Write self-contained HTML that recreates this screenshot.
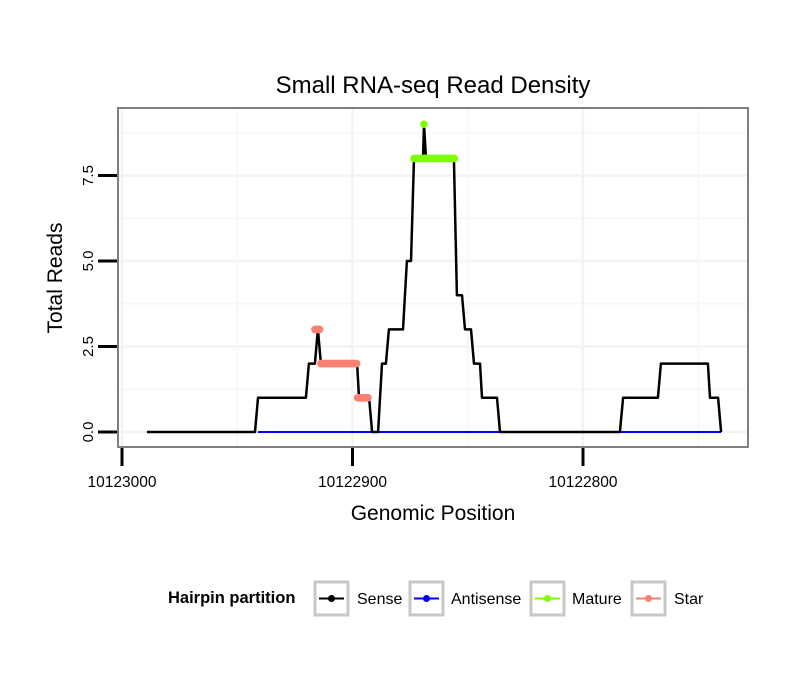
<!DOCTYPE html>
<html><head><meta charset="utf-8"><style>
body{margin:0;background:#fff;}
svg text{font-family:"Liberation Sans",Arial,sans-serif;}
</style></head><body>
<svg id="chart" width="810" height="690" xmlns="http://www.w3.org/2000/svg">
<rect width="810" height="690" fill="#fff"/>
<text x="433" y="93" font-size="24" text-anchor="middle">Small RNA-seq Read Density</text>
<rect x="118" y="108" width="630" height="339" fill="#fff"/>
<g id="grid"></g>
<g id="series"></g>
<rect x="118" y="108" width="630" height="339" fill="none" stroke="#7f7f7f" stroke-width="2"/>
<g id="axes"></g>
<text x="433" y="520" font-size="21" text-anchor="middle">Genomic Position</text>
<text transform="translate(62,278) rotate(-90)" font-size="21" text-anchor="middle">Total Reads</text>
<g>
<text x="168" y="603" font-size="16.5" font-weight="bold">Hairpin partition</text>
<g><rect x="315" y="582" width="33" height="33" fill="#fff" stroke="#c8c8c8" stroke-width="3"/><line x1="319" y1="598.5" x2="344" y2="598.5" stroke="#000" stroke-width="2"/><circle cx="331.5" cy="598.5" r="3.5" fill="#000"/><text x="357" y="604" font-size="16">Sense</text></g>
<g><rect x="410" y="582" width="33" height="33" fill="#fff" stroke="#c8c8c8" stroke-width="3"/><line x1="414" y1="598.5" x2="439" y2="598.5" stroke="#0000ff" stroke-width="2"/><circle cx="426.5" cy="598.5" r="3.5" fill="#0000ff"/><text x="451" y="604" font-size="16">Antisense</text></g>
<g><rect x="531" y="582" width="33" height="33" fill="#fff" stroke="#c8c8c8" stroke-width="3"/><line x1="535" y1="598.5" x2="560" y2="598.5" stroke="#7fff00" stroke-width="2"/><circle cx="547.5" cy="598.5" r="3.5" fill="#7fff00"/><text x="572" y="604" font-size="16">Mature</text></g>
<g><rect x="632" y="582" width="33" height="33" fill="#fff" stroke="#c8c8c8" stroke-width="3"/><line x1="636" y1="598.5" x2="661" y2="598.5" stroke="#fa8072" stroke-width="2"/><circle cx="648.5" cy="598.5" r="3.5" fill="#fa8072"/><text x="674" y="604" font-size="16">Star</text></g>
</g>
</svg>
<script>
const sensePos = [10122989.2,10122942.3,10122941,10122920.2,10122918.9,10122916.3,10122915,10122913.7,10122898,10122897.2,10122892.8,10122891.5,10122888.9,10122887.2,10122885.5,10122884.2,10122878.1,10122876.4,10122874.6,10122873.3,10122869.4,10122869,10122868.1,10122856,10122854.7,10122852.5,10122851.2,10122848.6,10122847.3,10122844.7,10122843.8,10122837.3,10122836,10122784,10122782.6,10122767.5,10122766.2,10122745.8,10122744.9,10122741.4,10122740.1];
const senseVal = [0,0,1,1,2,2,3,2,2,1,1,0,0,2,2,3,3,5,5,8,8,9,8,8,4,4,3,3,2,2,1,1,0,0,1,1,2,2,1,1,0];
const antisenseRange = [10122941, 10122740.1];
const matureStart = [10122873.3, 10122869];
const matureEnd = [10122855.5, 10122869];
const matureVal = [8, 9];
const starStart = [10122916.3, 10122913.7, 10122897.8];
const starEnd = [10122914.3, 10122897.8, 10122893];
const starVal = [3, 2, 1];
const yTicks = [0, 2.5, 5, 7.5];
const yTickLabels = ["0.0", "2.5", "5.0", "7.5"];
const xTicks = [10123000, 10122900, 10122800];
const xTickLabels = ["10123000", "10122900", "10122800"];

const NS = "http://www.w3.org/2000/svg";
const xs = p => 122 + (10123000 - p) * 2.305;
const ys = v => 432 - v * 34.2;
function mk(tag, attrs, parent){const e=document.createElementNS(NS,tag);for(const k in attrs)e.setAttribute(k,attrs[k]);parent.appendChild(e);return e;}
const grid=document.getElementById('grid'), series=document.getElementById('series'), axes=document.getElementById('axes');

[-1.25,1.25,3.75,6.25,8.75].forEach(v=>{const y=ys(v);if(y>108&&y<447){const l=mk('line',{x1:119,x2:747,y1:y,y2:y,stroke:'#f8f8f8','stroke-width':2},grid);}});
yTicks.forEach(v=>{const y=ys(v);const l=mk('line',{x1:119,x2:747,y1:y,y2:y,stroke:'#f3f3f3','stroke-width':2.5},grid);});
[10122950,10122850,10122750].forEach(p=>{const x=xs(p);const l=mk('line',{x1:x,x2:x,y1:109,y2:446,stroke:'#f8f8f8','stroke-width':2},grid);});
xTicks.forEach(p=>{const x=xs(p);if(x>118){const l=mk('line',{x1:x,x2:x,y1:109,y2:446,stroke:'#f3f3f3','stroke-width':2.5},grid);}});

const anti=mk('line',{x1:xs(antisenseRange[0]),x2:xs(antisenseRange[1]),y1:ys(0),y2:ys(0),stroke:'#0000ff','stroke-width':2},series);


const pts=sensePos.map((p,i)=>xs(p).toFixed(1)+','+ys(senseVal[i]).toFixed(1)).join(' ');
const sl=mk('polyline',{points:pts,fill:'none',stroke:'#000','stroke-width':2.5,'stroke-linejoin':'round'},series);


function segs(st,en,val,color,name){
  st.forEach((s,i)=>{
    for(let p=s;p>=en[i]-0.01;p-=0.5){
      const c=mk('circle',{cx:xs(p),cy:ys(val[i]),r:3.8,fill:color},series);
      
      
    }
  });
}
segs(starStart,starEnd,starVal,'#fa8072','star-point');
segs(matureStart,matureEnd,matureVal,'#7fff00','mature-point');

yTicks.forEach((v,i)=>{const y=ys(v);
  const t=mk('line',{x1:98,x2:117,y1:y,y2:y,stroke:'#000','stroke-width':3},axes);
  
  
  const tx=mk('text',{transform:`translate(93,${y}) rotate(-90)`,'font-size':15,'text-anchor':'middle'},axes);
  tx.textContent=yTickLabels[i];
  
  
});
xTicks.forEach((p,i)=>{const x=xs(p);
  const t=mk('line',{x1:x,x2:x,y1:448,y2:466,stroke:'#000','stroke-width':3},axes);
  
  
  const tx=mk('text',{x:x,y:487,'font-size':15.5,'text-anchor':'middle'},axes);
  tx.textContent=xTickLabels[i];
  
  
});
</script>
</body></html>
